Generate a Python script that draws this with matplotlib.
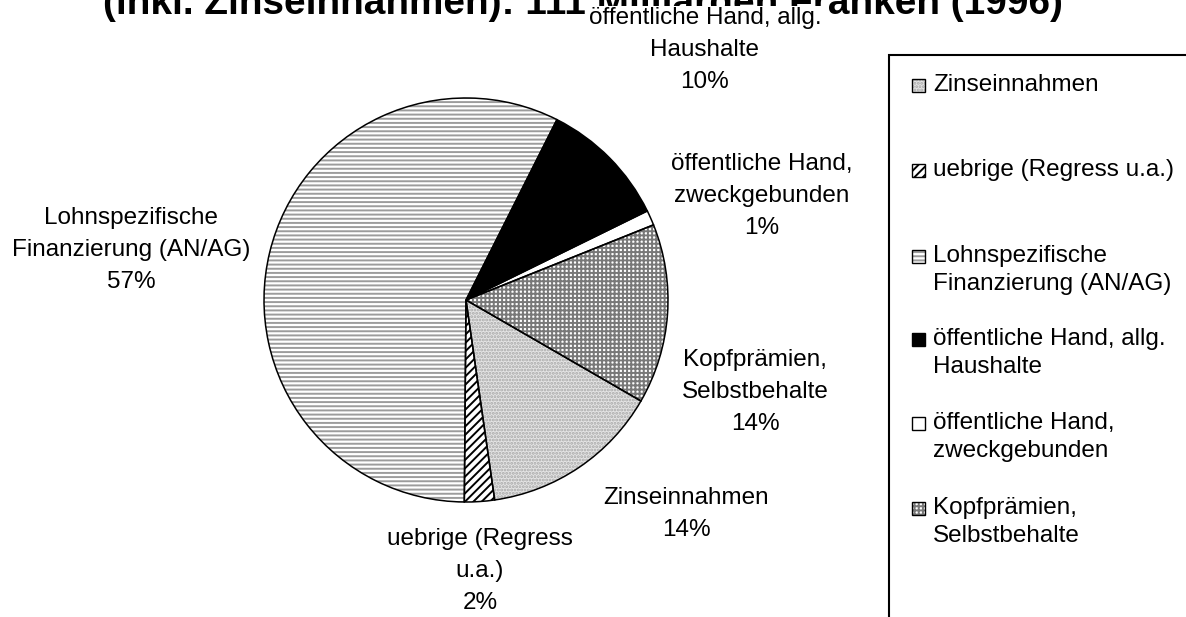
import matplotlib
matplotlib.use("Agg")
import matplotlib.pyplot as plt
from matplotlib.patches import Rectangle

# ---------------- data ----------------
categories = [
    "Zinseinnahmen",
    "uebrige (Regress u.a.)",
    "Lohnspezifische Finanzierung (AN/AG)",
    "öffentliche Hand, allg. Haushalte",
    "öffentliche Hand, zweckgebunden",
    "Kopfprämien, Selbstbehalte",
]
shares = [14.4, 2.4, 57.3, 10.3, 1.2, 14.4]
slice_label_lines = [
    ["Zinseinnahmen"],
    ["uebrige (Regress", "u.a.)"],
    ["Lohnspezifische", "Finanzierung (AN/AG)"],
    ["öffentliche Hand, allg.", "Haushalte"],
    ["öffentliche Hand,", "zweckgebunden"],
    ["Kopfprämien,", "Selbstbehalte"],
]
legend_lines = [
    ["Zinseinnahmen"],
    ["uebrige (Regress u.a.)"],
    ["Lohnspezifische", "Finanzierung (AN/AG)"],
    ["öffentliche Hand, allg.", "Haushalte"],
    ["öffentliche Hand,", "zweckgebunden"],
    ["Kopfprämien,", "Selbstbehalte"],
]
title = "(inkl. Zinseinnahmen): 111 Milliarden Franken (1996)"

# ---------------- style ----------------
faces = ["#e4e4e4", "white", "white", "black", "white", "white"]
hatches = [".....", "////", "----", "", "", "++++"]
hatch_colors = ["#a8a8a8", "black", "#9c9c9c", "black", "black", "#787878"]

W, H = 1186, 617
plt.rcParams["font.family"] = ["Liberation Sans", "DejaVu Sans"]
plt.rcParams["hatch.linewidth"] = 1.4

fig = plt.figure(figsize=(W / 100, H / 100), dpi=100)

cx, cy, r = 466, 300, 202
ax = fig.add_axes([(cx - r) / W, (H - cy - r) / H, 2 * r / W, 2 * r / H])

wedges, _ = ax.pie(shares, startangle=-30, counterclock=False, colors=faces,
                   hatch=hatches, radius=1, wedgeprops=dict(linewidth=0))
for w, hc in zip(wedges, hatch_colors):
    w.set_edgecolor(hc)
    w.set_linewidth(0)
ax.pie(shares, startangle=-30, counterclock=False, radius=1,
       wedgeprops=dict(fill=False, edgecolor="black", linewidth=1.1))
ax.set_xlim(-1, 1)
ax.set_ylim(-1, 1)
ax.set_aspect("equal")
ax.axis("off")


def px2data(px, py):
    return (px - cx) / r, (cy - py) / r


FS = 17.5
# slice labels (block centres in pixels)
label_pos = [(686, 514), (480, 571), (131, 250), (705, 50), (762, 196), (755, 392)]
pitch = 32
for lines, s, (lx, ly) in zip(slice_label_lines, shares, label_pos):
    all_lines = lines + [f"{s:.0f}%"]
    n = len(all_lines)
    for i, t in enumerate(all_lines):
        yy = ly + (i - (n - 1) / 2) * pitch
        x, y = px2data(lx, yy)
        ax.text(x, y, t, ha="center", va="center", fontsize=FS, clip_on=False,
                bbox=dict(facecolor="white", edgecolor="none", pad=1))

# title (only the lower part is visible in the reference)
tt = fig.text(583 / W, 1 - 14 / H, title, ha="center", va="baseline",
              fontsize=24, fontweight="bold", zorder=-1)
fig.canvas.draw()
wpx = tt.get_window_extent(fig.canvas.get_renderer()).width
tt.set_fontsize(24 * 960 / wpx)

# legend (manual, Excel-like)
box = Rectangle((889 / W, -0.1), 400 / W, (H - 55) / H + 0.1, transform=fig.transFigure,
                facecolor="white", edgecolor="black", linewidth=1.5, clip_on=False, zorder=5)
fig.add_artist(box)
entry_y = [85, 170, 256, 339, 423, 508]
lpitch = 28
for lines, fc, hc, hh, ey in zip(legend_lines, faces, hatch_colors, hatches, entry_y):
    sq = Rectangle((912 / W, 1 - (ey + 7) / H), 13 / W, 13 / H, transform=fig.transFigure,
                   facecolor=fc, edgecolor=hc, hatch=hh, linewidth=0, zorder=6)
    fig.add_artist(sq)
    sqb = Rectangle((912 / W, 1 - (ey + 7) / H), 13 / W, 13 / H, transform=fig.transFigure,
                    fill=False, edgecolor="black", linewidth=1.0, zorder=7)
    fig.add_artist(sqb)
    for i, t in enumerate(lines):
        fig.text(933 / W, 1 - (ey + i * lpitch) / H, t, ha="left", va="center",
                 fontsize=FS, zorder=8)

fig.savefig("out.png", dpi=100, facecolor="white")
